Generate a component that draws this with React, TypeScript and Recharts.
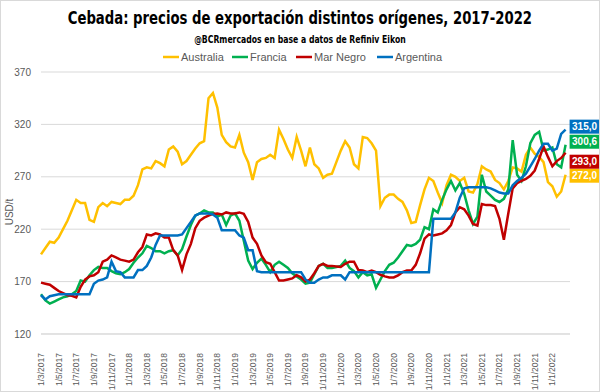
import { LineChart, Line, XAxis, YAxis, CartesianGrid } from 'recharts'

// month ticks, every two months starting Mar 2017
const xTickLabels = [
  '1/3/2017', '1/5/2017', '1/7/2017', '1/9/2017', '1/11/2017',
  '1/1/2018', '1/3/2018', '1/5/2018', '1/7/2018', '1/9/2018', '1/11/2018',
  '1/1/2019', '1/3/2019', '1/5/2019', '1/7/2019', '1/9/2019', '1/11/2019',
  '1/1/2020', '1/3/2020', '1/5/2020', '1/7/2020', '1/9/2020', '1/11/2020',
  '1/1/2021', '1/3/2021', '1/5/2021', '1/7/2021', '1/9/2021', '1/11/2021',
  '1/1/2022',
]
const yTicks = [120, 170, 220, 270, 320, 370]

// half-month readings, from Mar 2017
const australia = [
  196, 202, 208, 207, 212, 220, 228, 238, 248, 245,
  245, 229, 227, 241, 245, 242, 246, 245, 244, 248,
  248, 252, 262, 277, 279, 278, 285, 283, 280, 296,
  299, 294, 282, 285, 291, 297, 302, 304, 345, 350,
  336, 310, 303, 299, 298, 310, 293, 284, 267, 284,
  287, 288, 291, 288, 315, 306, 296, 288, 308, 295,
  280, 298, 282, 278, 269, 272, 273, 284, 295, 304,
  298, 282, 278, 308, 307, 302, 295, 242, 250, 253,
  253, 249, 246, 238, 226, 227, 243, 258, 269, 266,
  255, 245, 262, 272, 270, 266, 269, 256, 255, 263,
  280, 277, 275, 267, 264, 258, 266, 279, 278, 275,
  291, 298, 292, 289, 284, 265, 261, 251, 256, 272,
]
const francia = [
  158, 152, 149, 151, 153, 155, 156, 158, 161, 171,
  170, 176, 181, 184, 183, 183, 180, 178, 177, 179,
  182, 188, 193, 197, 204, 202, 199, 199, 197, 199,
  200, 195, 201, 213, 224, 233, 235, 238, 236, 236,
  232, 234, 224, 233, 235, 228, 209, 190, 182, 188,
  192, 186, 179, 186, 189, 186, 183, 178, 175, 172,
  168, 169, 177, 185, 187, 183, 183, 184, 185, 190,
  183, 180, 174, 179, 176, 177, 164, 172, 180, 186,
  188, 193, 199, 205, 204, 206, 210, 222, 220, 239,
  236, 248, 258, 266, 257, 264, 254, 238, 225, 232,
  272, 256, 252, 248, 246, 249, 258, 305, 272, 266,
  280, 302, 310, 313, 295, 296, 298, 282, 279, 300.6,
]
const marNegro = [
  169, 168, 167, 164, 161, 159, 157, 156.5, 155, 165,
  172, 175, 176, 179, 189, 191, 195, 193, 191, 190,
  189, 191, 198, 203, 215, 214, 216, 215, 212, 212,
  200, 195, 181, 196, 206, 221, 228, 231, 233, 234.6,
  235, 234, 236, 235, 235, 236, 234.6, 227, 212, 206,
  195, 188.5, 187, 179, 171, 171, 172, 173, 176, 174,
  170, 172, 178, 185, 187, 185, 185, 184.5, 184, 187,
  189, 189, 181, 180.5, 179, 180.5, 179, 176.5, 175, 174,
  174, 176, 179, 180.5, 180.5, 186, 197, 211, 215, 214,
  215, 216, 219, 224, 236, 241, 239, 233, 225, 223.5,
  244, 243, 243, 242, 230, 210, 235, 259, 264, 266,
  268, 271, 276, 287, 299, 289, 280, 285, 288, 293,
]
const argentina = [
  157, 153, 156, 157, 158, 158, 158, 158, 158, 158,
  158, 158, 168, 171, 172, 174, 189, 180, 179, 174,
  174, 174, 181, 181, 185, 193, 205, 214, 214, 214,
  214, 214, 215, 221, 227, 233, 235, 235, 235, 234,
  231, 219, 219, 219, 219, 214, 212, 200, 200, 180,
  179, 179, 179, 179, 179, 179, 179, 179, 179, 179,
  172, 169, 169, 172, 174, 174, 176, 176, 176, 172,
  179, 179, 179, 179, 179, 179, 179, 179, 179, 179,
  179, 179, 179, 179, 179, 179, 179, 179, 179, 230,
  230, 230, 230, 230, 236, 250, 259, 260, 260, 260,
  260, 260, 259, 257, 255, 254, 254, 262, 266, 269,
  273, 280, 287, 295, 301.5, 301.5, 295, 297, 311, 315,
]

const series = [
  { key: 'australia', name: 'Australia', color: '#FFC000', values: australia, nudge: 1 },
  { key: 'francia', name: 'Francia', color: '#00B050', values: francia, nudge: -3 },
  { key: 'marNegro', name: 'Mar Negro', color: '#C00000', values: marNegro, nudge: 9 },
  { key: 'argentina', name: 'Argentina', color: '#0070C0', values: argentina, nudge: -3 },
]

const data = australia.map((_, i) => {
  const row: Record<string, number> = { m: i / 2 }
  series.forEach((s) => {
    row[s.key] = s.values[i]
  })
  return row
})

const lastIndex = data.length - 1
const font = '"Liberation Sans", Arial, sans-serif'
const heading = '"DejaVu Sans", sans-serif'

function DateTick({ x, y, payload }: any) {
  const ty = y + 11
  return (
    <text
      x={x}
      y={ty}
      transform={`rotate(-90, ${x}, ${ty})`}
      textAnchor="end"
      dy="0.35em"
      fontSize={8.5}
      fontFamily={font}
      fill="#595959"
    >
      {xTickLabels[Math.round(payload.value / 2)]}
    </text>
  )
}

function EndLabel({ x, y, index, value, color, nudge }: any) {
  if (index !== lastIndex) return null
  const cy = y + nudge
  return (
    <g>
      <rect x={x + 4} y={cy - 7} width={30} height={14} fill={color} />
      <text
        x={x + 19}
        y={cy}
        dy="0.35em"
        textAnchor="middle"
        fontSize={10}
        fontWeight="bold"
        fontFamily={font}
        fill="#ffffff"
      >
        {Number(value).toFixed(1).replace('.', ',')}
      </text>
    </g>
  )
}

// wide box centred on x=299 so the squeezed text stays centred
const headingBox = {
  position: 'absolute' as const,
  left: -100,
  width: 798,
  textAlign: 'center' as const,
  fontFamily: heading,
  fontWeight: 'bold' as const,
  color: '#000000',
  whiteSpace: 'nowrap' as const,
}

const squeeze = {
  display: 'inline-block',
  transform: 'scaleX(0.735)',
  transformOrigin: 'center',
}

export default function App() {
  return (
    <div
      style={{
        position: 'absolute',
        top: 0,
        left: 0,
        width: 600,
        height: 392,
        background: '#ffffff',
        border: '1px solid #d9d9d9',
        boxSizing: 'border-box',
        overflow: 'hidden',
      }}
    >
      <div style={{ position: 'absolute', top: -1, left: -1 }}>
        <LineChart
          width={600}
          height={392}
          data={data}
          margin={{ top: 72, right: 30, bottom: 0, left: 0 }}
        >
          <CartesianGrid vertical={false} stroke="#d9d9d9" />
          <XAxis
            type="number"
            dataKey="m"
            domain={[0, 60]}
            ticks={xTickLabels.map((_, i) => i * 2)}
            interval={0}
            tickLine={false}
            axisLine={{ stroke: '#d9d9d9' }}
            tick={<DateTick />}
            height={58}
          />
          <YAxis
            domain={[120, 370]}
            ticks={yTicks}
            interval={0}
            axisLine={false}
            tickLine={false}
            tickMargin={4}
            width={41}
            tick={{ fontSize: 10, fill: '#595959', fontFamily: font }}
          />
          {series.map((s) => (
            <Line
              key={s.key}
              dataKey={s.key}
              name={s.name}
              type="linear"
              stroke={s.color}
              strokeWidth={2.5}
              dot={false}
              isAnimationActive={false}
              label={(p: any) => <EndLabel key={`${s.key}-${p.index}`} {...p} color={s.color} nudge={s.nudge} />}
            />
          ))}
        </LineChart>
      </div>
      <div style={{ ...headingBox, top: 6, fontSize: 18, lineHeight: '22px' }}>
        <span style={squeeze}>Cebada: precios de exportación distintos orígenes, 2017-2022</span>
      </div>
      <div style={{ ...headingBox, top: 31, fontSize: 10.5, lineHeight: '14px' }}>
        <span style={squeeze}>@BCRmercados en base a datos de Refiniv Eikon</span>
      </div>
      <svg
        width={600}
        height={392}
        style={{ position: 'absolute', top: -1, left: -1, pointerEvents: 'none' }}
      >
        {series.map((s, i) => {
          const starts = [163, 232, 296, 377]
          const lx = starts[i]
          return (
            <g key={s.key}>
              <line x1={lx} x2={lx + 16} y1={57} y2={57} stroke={s.color} strokeWidth={2.5} />
              <text x={lx + 18} y={57} dy="0.35em" fontSize={11} fontFamily={font} fill="#595959">
                {s.name}
              </text>
            </g>
          )
        })}
        <text
          x={9}
          y={212}
          transform="rotate(-90, 9, 212)"
          textAnchor="middle"
          dy="0.35em"
          fontSize={10}
          fontFamily={font}
          fill="#595959"
        >
          USD/t
        </text>
      </svg>
    </div>
  )
}
